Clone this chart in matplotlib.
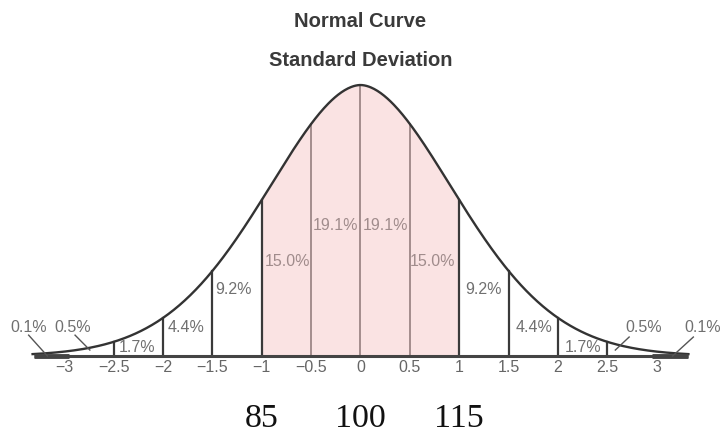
import matplotlib.pyplot as plt
import numpy as np

# section boundaries (standard deviations) and the share of cases in each section
bounds = [-3, -2.5, -2, -1.5, -1, -0.5, 0, 0.5, 1, 1.5, 2, 2.5, 3]
pcts = ["0.1%", "0.5%", "1.7%", "4.4%", "9.2%", "15.0%", "19.1%",
        "19.1%", "15.0%", "9.2%", "4.4%", "1.7%", "0.5%", "0.1%"]
tick_vals = [-3, -2.5, -2, -1.5, -1, -0.5, 0, 0.5, 1, 1.5, 2, 2.5, 3]
iq_pos = [-1, 0, 1]
iq_labels = ["85", "100", "115"]

# label placement (x, y) in axis units, peak of the curve = 1
pct_xy = [(-3.36, 0.107), (-2.91, 0.107), (-2.26, 0.030), (-1.77, 0.107),
          (-1.29, 0.244), (-0.74, 0.347), (-0.25, 0.480),
          (0.25, 0.480), (0.73, 0.347), (1.25, 0.244), (1.76, 0.107),
          (2.25, 0.030), (2.87, 0.107), (3.46, 0.107)]
# leader lines for the two smallest tail labels on each side
leaders = [((-3.36, 0.077), (-3.17, 0.0)), ((-2.89, 0.077), (-2.74, 0.022)),
           ((2.72, 0.070), (2.58, 0.022)), ((3.37, 0.070), (3.16, 0.0))]


def curve(x):
    # bell shape as drawn in the original figure
    return np.exp(-0.552 * np.abs(np.asarray(x, dtype=float)) ** 1.83)


fig = plt.figure(figsize=(7.21, 4.34), dpi=100)
ax = fig.add_axes([0, 0, 1, 1])
ax.set_xlim(-3.65, 3.65)
ax.set_ylim(-0.2878, 1.3137)
ax.axis("off")

# pink middle region
xs = np.linspace(-1, 1, 200)
ax.fill_between(xs, 0, curve(xs), color="#fae3e3", lw=0, zorder=1)

# curve and baseline
xc = np.linspace(-3.32, 3.32, 600)
ax.plot(xc, curve(xc), color="#333333", lw=1.7, zorder=3)
ax.plot([-3.31, 3.32], [0, 0], color="#444444", lw=2.2, zorder=3,
        solid_capstyle="butt")
ax.plot([-3.31, -2.95], [0, 0], color="#444444", lw=3.5, zorder=3,
        solid_capstyle="butt")
ax.plot([2.95, 3.32], [0, 0], color="#444444", lw=3.5, zorder=3,
        solid_capstyle="butt")

# section dividers
for b in bounds[1:-1]:
    inner = abs(b) < 1
    ax.plot([b, b], [0, curve(b)], color="#9c8686" if inner else "#3a3a3a",
            lw=1.3 if inner else 1.6, zorder=2)

# percentage labels
for (x, y), t in zip(pct_xy, pcts):
    col = "#a08c8c" if abs(x) < 1 else "#707070"
    ax.text(x, y, t, ha="center", va="center", fontsize=11.5, color=col,
            family="Liberation Sans", zorder=4)
for (p0, p1) in leaders:
    ax.plot([p0[0], p1[0]], [p0[1], p1[1]], color="#555555", lw=1.0, zorder=4)

# tick labels
for v in tick_vals:
    s = ("%g" % v).replace("-", "\u2212")
    ax.text(v, -0.044, s, ha="center", va="center", fontsize=11.5,
            color="#666666", family="Liberation Sans")

# IQ scores
for v, s in zip(iq_pos, iq_labels):
    ax.text(v, -0.232, s, ha="center", va="center", fontsize=24.5,
            color="#111111", family="Liberation Serif")

# titles
ax.text(0, 1.234, "Normal Curve", ha="center", va="center", fontsize=14.5,
        fontweight="bold", color="#3a3a3a", family="Liberation Sans")
ax.text(0, 1.090, "Standard Deviation", ha="center", va="center", fontsize=14.5,
        fontweight="bold", color="#3a3a3a", family="Liberation Sans")

fig.savefig("out.png", dpi=100)
